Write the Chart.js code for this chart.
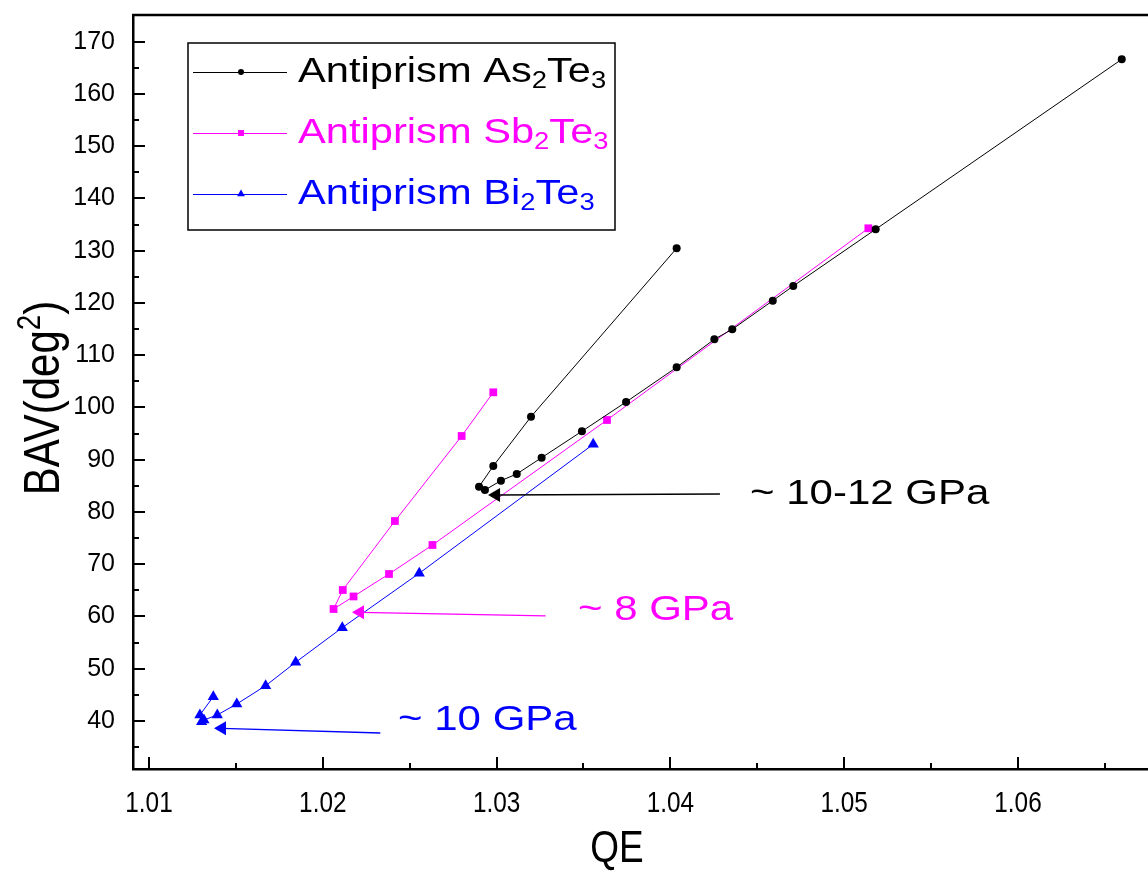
<!DOCTYPE html>
<html>
<head>
<meta charset="utf-8">
<script src="https://cdn.jsdelivr.net/npm/chart.js@4.4.0/dist/chart.umd.min.js"></script>
<style>
  html, body { margin: 0; padding: 0; background: #fff; overflow: hidden; }
  #wrap { width: 1148px; height: 875px; }
</style>
</head>
<body>
<div id="wrap"><canvas id="c" width="1148" height="875"></canvas></div>
<script>
// QE vs. BAV for the antiprism sites of three tellurides
const asTeQE  = [1.04036, 1.03198, 1.02981, 1.02899, 1.02933, 1.03025, 1.03116, 1.03259, 1.03491, 1.03745, 1.04036, 1.04253, 1.04356, 1.04589, 1.04707, 1.05181, 1.06597];
const asTeBAV = [130.46, 98.23, 88.8, 84.84, 84.21, 85.99, 87.27, 90.39, 95.44, 101.05, 107.69, 113.05, 114.96, 120.43, 123.25, 134.1, 166.63];

const sbTeQE  = [1.02981, 1.02799, 1.02415, 1.02115, 1.02062, 1.02177, 1.02381, 1.02631, 1.03635, 1.05139];
const sbTeBAV = [102.9, 94.54, 78.27, 65.07, 61.43, 63.83, 68.13, 73.68, 97.6, 134.29];

const biTeQE  = [1.03556, 1.02555, 1.02112, 1.01844, 1.01671, 1.01505, 1.01393, 1.01316, 1.01303, 1.01293, 1.0137];
const biTeBAV = [92.95, 68.27, 57.86, 51.23, 46.75, 43.25, 41.15, 40.19, 39.87, 41.15, 44.65];

// pressure-transition arrows: [tail, head]
const arrowAsQE  = [1.04285, 1.02997];
const arrowAsBAV = [83.44, 83.25];
const arrowSbQE  = [1.03282, 1.02214];
const arrowSbBAV = [60.1, 60.8];
const arrowBiQE  = [1.02331, 1.0142];
const arrowBiBAV = [37.7, 38.6];

const labelsText = ['~ 10-12 GPa', '~ 8 GPa', '~ 10 GPa'];
const labelsQE   = [1.04458, 1.03468, 1.02433];
const labelsBAV  = [83.44, 61.24, 40.17];

const xTicks = [1.01, 1.02, 1.03, 1.04, 1.05, 1.06];
const xMinor = [1.015, 1.025, 1.035, 1.045, 1.055, 1.065];
const yTicks = [40, 50, 60, 70, 80, 90, 100, 110, 120, 130, 140, 150, 160, 170];
const yMinor = [35, 45, 55, 65, 75, 85, 95, 105, 115, 125, 135, 145, 155, 165];

const BLACK = '#000000', MAGENTA = '#ff00ff', BLUE = '#0000ff';
const FONT = "'Liberation Sans', Arial, sans-serif";

const pts = (xs, ys) => xs.map((x, i) => ({ x, y: ys[i] }));

function seriesDS(label, xs, ys, color, style, r) {
  return {
    label, data: pts(xs, ys), showLine: true,
    borderColor: color, backgroundColor: color, borderWidth: 1,
    pointStyle: style, pointRadius: r, pointBorderWidth: 0, pointHoverRadius: r,
    order: 1
  };
}
function arrowDS(xs, ys, color) {
  return {
    label: '', data: pts(xs, ys), showLine: true,
    borderColor: color, backgroundColor: color, borderWidth: 1.3,
    pointStyle: 'triangle', pointRotation: -90,
    pointRadius: [0, 8], pointBorderWidth: 0, order: 0
  };
}

// text run with sub/superscripts; parts: [text, shift] where shift is 0, 1 (sub) or -1 (sup)
function drawRuns(ctx, parts, x, y, size, family, sx) {
  ctx.save();
  ctx.translate(x, y);
  ctx.scale(sx, 1);
  let tx = 0;
  parts.forEach(([t, s]) => {
    const fs = s ? Math.round(size * 0.66) : size;
    ctx.font = fs + 'px ' + family;
    ctx.fillText(t, tx, s * size * 0.28);
    tx += ctx.measureText(t).width;
  });
  ctx.restore();
  return tx * sx;
}
function runsWidth(ctx, parts, size, family) {
  let w = 0;
  parts.forEach(([t, s]) => { ctx.font = (s ? Math.round(size * 0.66) : size) + 'px ' + family; w += ctx.measureText(t).width; });
  return w;
}

// inward tick marks, frame, x tick labels, axis titles, legend and pressure labels
const decor = {
  id: 'decor',
  afterDatasetsDraw(chart) {
    const { ctx, chartArea: a, scales: { x, y } } = chart;
    ctx.save();
    ctx.strokeStyle = '#000';
    ctx.lineWidth = 2;
    ctx.beginPath();
    xTicks.forEach(v => { const p = Math.round(x.getPixelForValue(v)); ctx.moveTo(p, a.bottom); ctx.lineTo(p, a.bottom - 12); });
    xMinor.forEach(v => { const p = Math.round(x.getPixelForValue(v)); ctx.moveTo(p, a.bottom); ctx.lineTo(p, a.bottom - 6); });
    yTicks.forEach(v => { const p = Math.round(y.getPixelForValue(v)); ctx.moveTo(a.left, p); ctx.lineTo(a.left + 12, p); });
    yMinor.forEach(v => { const p = Math.round(y.getPixelForValue(v)); ctx.moveTo(a.left, p); ctx.lineTo(a.left + 6, p); });
    ctx.stroke();
    ctx.lineWidth = 2.5;
    ctx.beginPath();
    ctx.moveTo(a.left - 1, a.top); ctx.lineTo(a.right, a.top);
    ctx.stroke();

    // x tick labels (condensed)
    ctx.fillStyle = '#000';
    ctx.textBaseline = 'middle';
    ctx.textAlign = 'left';
    xTicks.forEach(v => {
      const t = [[v.toFixed(2), 0]];
      const w = runsWidth(ctx, t, 29, FONT) * 0.84;
      drawRuns(ctx, t, x.getPixelForValue(v) - w / 2, a.bottom + 35, 29, FONT, 0.84);
    });

    // axis titles
    const qe = [['QE', 0]];
    const qw = runsWidth(ctx, qe, 44, FONT) * 0.84;
    drawRuns(ctx, qe, 617 - qw / 2, 850, 44, FONT, 0.84);
    const bav = [['BAV(deg', 0], ['2', -1], [')', 0]];
    const bw = runsWidth(ctx, bav, 50, FONT) * 0.84;
    ctx.save();
    ctx.translate(45, 398);
    ctx.rotate(-Math.PI / 2);
    drawRuns(ctx, bav, -bw / 2, 0, 50, FONT, 0.84);
    ctx.restore();

    // pressure labels
    const cols = [BLACK, MAGENTA, BLUE];
    labelsText.forEach((t, i) => {
      ctx.fillStyle = cols[i];
      drawRuns(ctx, [[t, 0]], x.getPixelForValue(labelsQE[i]), y.getPixelForValue(labelsBAV[i]), 35, FONT, 1.2);
    });

    // legend
    const L = 188, T = 43, W = 427, H = 187;
    ctx.fillStyle = '#fff';
    ctx.fillRect(L, T, W, H);
    ctx.lineWidth = 1.5;
    ctx.strokeStyle = '#000';
    ctx.strokeRect(L, T, W, H);
    const rows = [
      { c: BLACK, s: 'circle', r: 3, name: 'As' },
      { c: MAGENTA, s: 'rect', r: 4.2, name: 'Sb' },
      { c: BLUE, s: 'triangle', r: 4.5, name: 'Bi' }
    ];
    rows.forEach((row, i) => {
      const cy = 72 + i * 61;
      ctx.strokeStyle = row.c; ctx.fillStyle = row.c; ctx.lineWidth = 1;
      ctx.beginPath(); ctx.moveTo(193, cy + 0.5); ctx.lineTo(287, cy + 0.5); ctx.stroke();
      Chart.helpers.drawPoint(ctx, { pointStyle: row.s, radius: row.r, borderWidth: 0, rotation: 0 }, 241, cy);
      drawRuns(ctx, [['Antiprism ' + row.name, 0], ['2', 1], ['Te', 0], ['3', 1]], 298, cy, 35, FONT, 1.19);
    });
    ctx.restore();
  }
};

new Chart(document.getElementById('c'), {
  type: 'scatter',
  data: {
    datasets: [
      seriesDS('Antiprism As2Te3', asTeQE, asTeBAV, BLACK, 'circle', 4),
      seriesDS('Antiprism Sb2Te3', sbTeQE, sbTeBAV, MAGENTA, 'rect', 5.5),
      seriesDS('Antiprism Bi2Te3', biTeQE, biTeBAV, BLUE, 'triangle', 6.5),
      arrowDS(arrowAsQE, arrowAsBAV, BLACK),
      arrowDS(arrowSbQE, arrowSbBAV, MAGENTA),
      arrowDS(arrowBiQE, arrowBiBAV, BLUE)
    ]
  },
  options: {
    responsive: false,
    animation: false,
    layout: { autoPadding: false, padding: { top: 15, right: 0, left: 0, bottom: 0 } },
    plugins: { legend: { display: false }, tooltip: { enabled: false } },
    scales: {
      x: {
        type: 'linear', min: 1.00908, max: 1.06748,
        afterBuildTicks: s => { s.ticks = xTicks.map(v => ({ value: v })); },
        afterFit: s => { s.height = 106; s.paddingLeft = 0; s.paddingRight = 0; },
        grid: { display: false, drawTicks: false },
        border: { display: true, color: '#000', width: 2.5 },
        ticks: { display: false },
        title: { display: false }
      },
      y: {
        type: 'linear', min: 30.81, max: 175.11,
        afterBuildTicks: s => { s.ticks = yTicks.map(v => ({ value: v })); },
        afterFit: s => { s.width = 133; s.paddingTop = 0; s.paddingBottom = 0; },
        grid: { display: false, drawTicks: false },
        border: { display: true, color: '#000', width: 2.5 },
        ticks: { color: '#000', font: { family: FONT, size: 25 }, padding: 18, autoSkip: false,
                 callback: v => String(v) },
        title: { display: false }
      }
    }
  },
  plugins: [decor]
});
</script>
</body>
</html>
